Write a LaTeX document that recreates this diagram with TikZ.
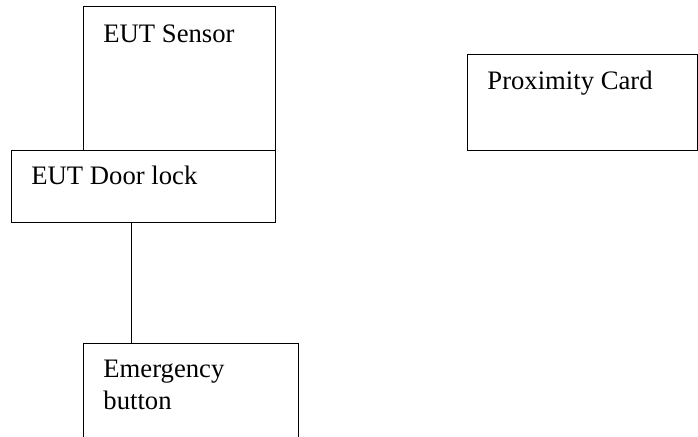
\documentclass[tikz,border=0pt]{standalone}
\usepackage{fontspec}
\setmainfont{Liberation Serif}
\usepackage{tikz}

\begin{document}
\begin{tikzpicture}[x=0.45pt, y=-0.45pt, font=\fontsize{12}{14.4}\selectfont]
  \useasboundingbox (0,0) rectangle (698,437);
  % scatole
  \node[draw, minimum width=86.4pt, minimum height=64.8pt, anchor=north west] (sensor) at (83,6) {};
  \node[draw, fill=white, minimum width=118.8pt, minimum height=32.4pt, anchor=north west] (doorlock) at (11,150) {};
  \node[draw, minimum width=96.75pt, minimum height=54pt, anchor=north west] (emergency) at (83,343) {};
  \node[draw, minimum width=103.5pt, minimum height=43.2pt, anchor=north west] (card) at (467,54) {};
  % testi
  \node[anchor=base west, inner sep=0pt] (sensortxt) at (103,43) {EUT Sensor};
  \node[anchor=base west, inner sep=0pt] (doorlocktxt) at (31,185) {EUT Door lock};
  \node[anchor=base west, inner sep=0pt] (emergencytxt) at (103,377) {Emergency};
  \node[anchor=base west, inner sep=0pt] (buttontxt) at (103,409) {button};
  \node[anchor=base west, inner sep=0pt] (cardtxt) at (487,90) {Proximity Card};
  % collegamento serratura -- pulsante
  \coordinate (tap) at (131,222);
  \draw (tap) -- (tap |- emergency.north);
\end{tikzpicture}
\end{document}
